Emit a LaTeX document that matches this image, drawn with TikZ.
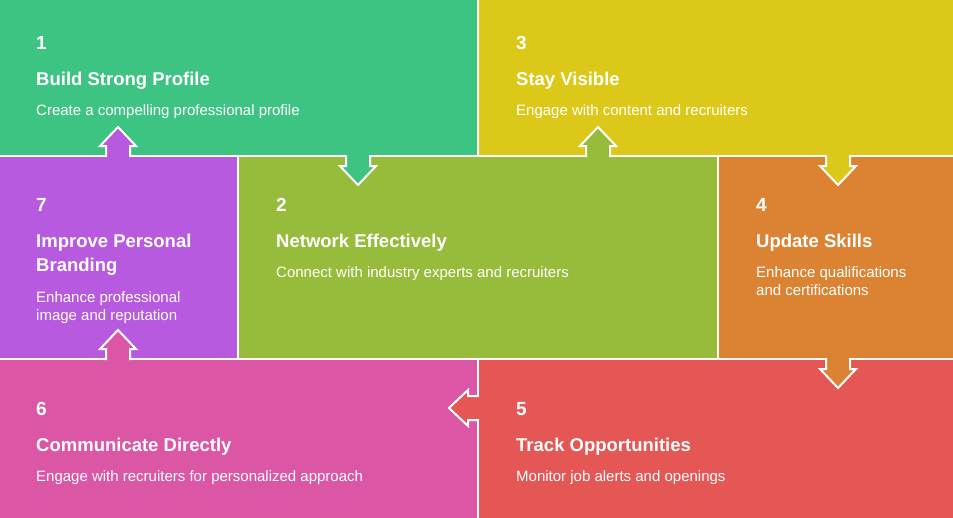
\documentclass[tikz,border=0pt]{standalone}
\usepackage{fontspec}
\setmainfont{Liberation Sans}
\definecolor{cone}{HTML}{3DC483}
\definecolor{ctwo}{HTML}{97BC3B}
\definecolor{cthree}{HTML}{DCC818}
\definecolor{cfour}{HTML}{DB8333}
\definecolor{cfive}{HTML}{E45754}
\definecolor{csix}{HTML}{DB57A5}
\definecolor{cseven}{HTML}{B85AE0}
\tikzset{
	arr/.pic={
		\fill[#1] (-12,-3) -- (-12,10) -- (-18,10) -- (0,29) -- (18,10) -- (12,10) -- (12,-3) -- cycle;
		\draw[white, line width=2pt] (-12,-1) -- (-12,10) -- (-18,10) -- (0,29) -- (18,10) -- (12,10) -- (12,-1);
	},
	num/.style={anchor=base west, inner sep=0pt, font=\fontsize{19}{24}\selectfont\bfseries},
	ttl/.style={anchor=base west, inner sep=0pt, align=left, font=\fontsize{18.5}{24}\selectfont\bfseries},
	dsc/.style={anchor=base west, inner sep=0pt, align=left, font=\fontsize{15}{18}\selectfont}
}
\begin{document}
\begin{tikzpicture}[x=1pt, y=-1pt, line join=miter, text=white]
	\useasboundingbox (0,0) rectangle (953,517);
	\clip (0,0) rectangle (953,517);
	% boxes
	\foreach \a/\b/\c/\d/\col in {-5/-5/478/156/cone, 478/-5/958/156/cthree, -5/156/238/359/cseven, 238/156/718/359/ctwo, 718/156/958/359/cfour, -5/359/478/522/csix, 478/359/958/522/cfive}
		\filldraw[fill=\col, draw=white, line width=2pt] (\a,\b) rectangle (\c,\d);
	% arrows
	\path (358,156) coordinate (a12)
		(598,156) coordinate (a23)
		(838,156) coordinate (a34)
		(838,359) coordinate (a45)
		(478,408) coordinate (a56)
		(118,359) coordinate (a67)
		(118,156) coordinate (a71);
	\pic at (a12) {arr=cone};
	\pic[rotate=180] at (a23) {arr=ctwo};
	\pic at (a34) {arr=cthree};
	\pic at (a45) {arr=cfour};
	\pic[rotate=-90] at (a56) {arr=cfive};
	\pic[rotate=180] at (a67) {arr=csix};
	\pic[rotate=180] at (a71) {arr=cseven};
	% texts (y = baseline of the last line)
	\foreach \n/\x/\y/\w/\z/\t/\s in {
		1/36/49/85/115/{Build Strong Profile}/{Create a compelling professional profile},
		3/516/49/85/115/{Stay Visible}/{Engage with content and recruiters},
		7/36/211/271/320/{Improve Personal\\Branding}/{Enhance professional\\image and reputation},
		2/276/211/247/277/{Network Effectively}/{Connect with industry experts and recruiters},
		4/756/211/247/295/{Update Skills}/{Enhance qualifications\\and certifications},
		6/36/415/451/481/{Communicate Directly}/{Engage with recruiters for personalized approach},
		5/516/415/451/481/{Track Opportunities}/{Monitor job alerts and openings}}{
		\node[num] (n\n) at (\x,\y) {\n};
		\node[ttl] (t\n) at (\x,\w) {\t};
		\node[dsc] (d\n) at (\x,\z) {\s};}
\end{tikzpicture}
\end{document}
